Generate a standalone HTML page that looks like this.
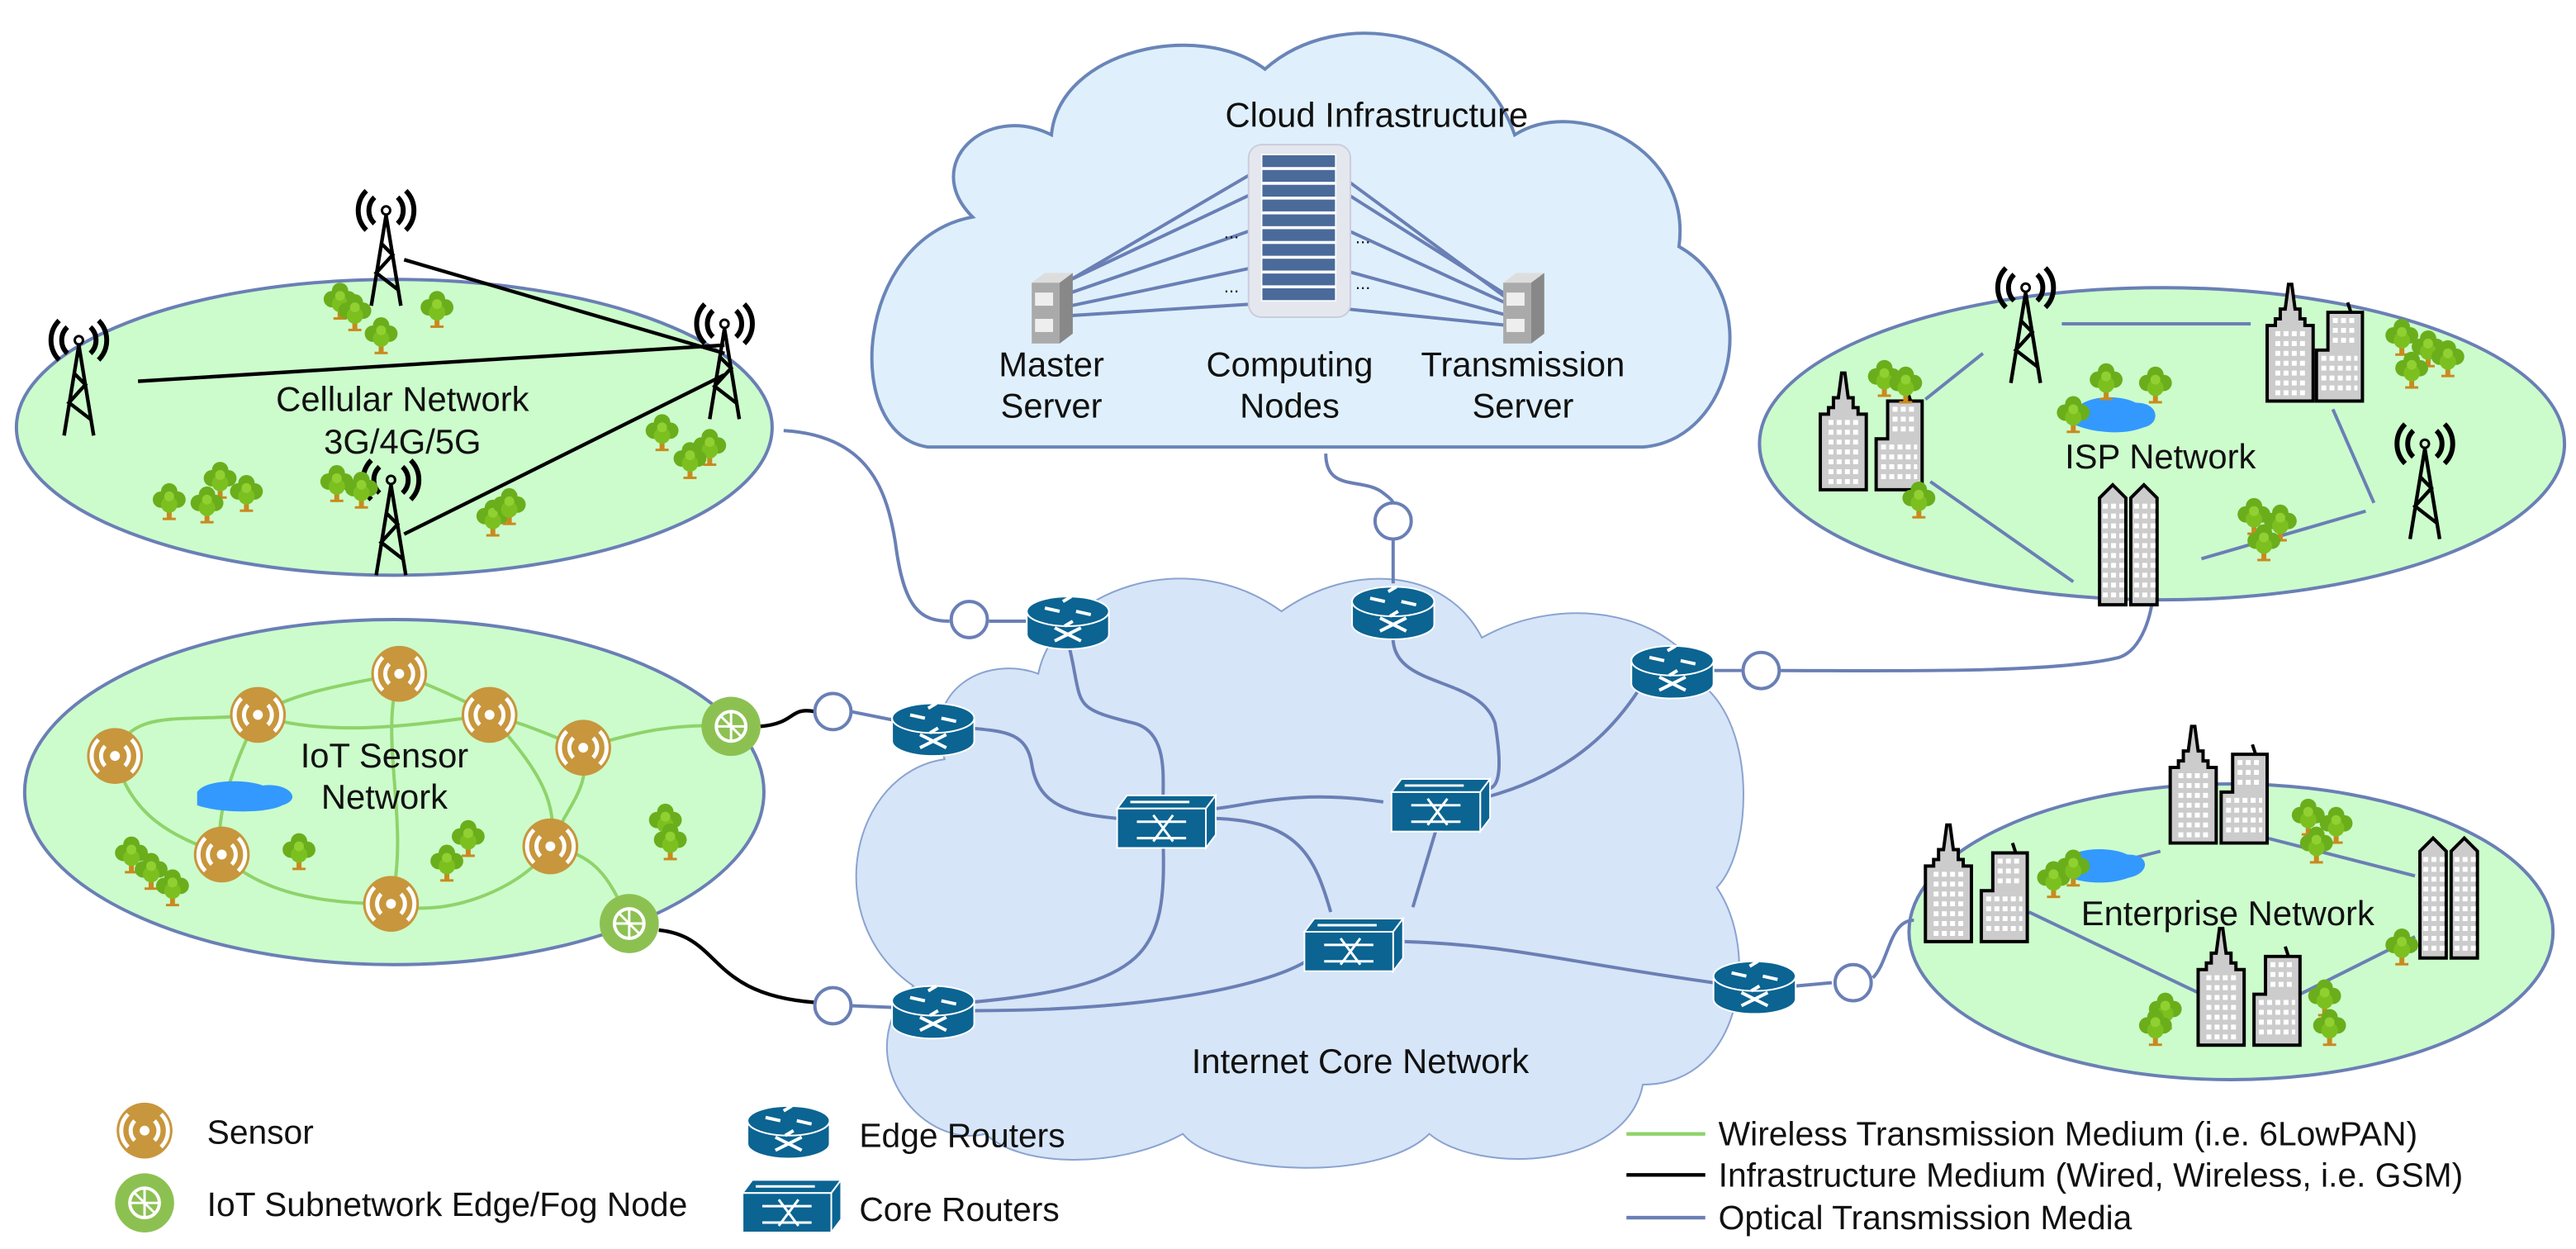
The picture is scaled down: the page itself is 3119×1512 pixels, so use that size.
<!DOCTYPE html>
<html><head><meta charset="utf-8"><style>html,body{margin:0;padding:0;background:#fff}svg{display:block}text{font-family:"Liberation Sans",sans-serif;fill:#111}</style></head><body>
<svg width="3119" height="1512" viewBox="0 0 1568 760" xmlns="http://www.w3.org/2000/svg">
<defs>
<g id="tree"><rect x="-1.5" y="2" width="3" height="9" fill="#c98a1e"/><rect x="-4" y="10" width="8" height="1.5" fill="#c98a1e"/><circle cx="0" cy="-6" r="5" fill="#6aae1c"/><circle cx="-5" cy="-1" r="5" fill="#6aae1c"/><circle cx="5" cy="-1" r="5" fill="#6aae1c"/><circle cx="0" cy="2" r="5" fill="#7cc020"/><circle cx="0" cy="-3" r="3" fill="#90d030"/></g>
<g id="tower" fill="none" stroke="#000"><circle cx="0" cy="0" r="2.5" stroke-width="1.5"/><path d="M-7,-8 A11,11 0 0 0 -7,8 M7,-8 A11,11 0 0 1 7,8 M-12,-12 A17,17 0 0 0 -12,12 M12,-12 A17,17 0 0 1 12,12" stroke-width="3"/><path d="M0,3 L-9,58 M0,3 L9,58 M-3,20 L4,27 L-6,38 L7,48" stroke-width="2.2"/></g>
<g id="sky"><path d="M-1,-35 L1,-35 L3,-20 L6,-20 L6,-14 L9,-14 L9,-10 L14,-10 L14,36 L-14,36 L-14,-10 L-9,-10 L-9,-14 L-6,-14 L-6,-20 L-3,-20 Z" fill="#ccc" stroke="#000" stroke-width="2"/><path d="M-9,-5 h18 M-9,1 h18 M-9,7 h18 M-9,13 h18 M-9,19 h18 M-9,25 h18 M-9,31 h18" stroke="#fff" stroke-width="3" stroke-dasharray="3,2"/></g>
<g id="step"><path d="M-14,36 L-14,5 L-7,5 L-7,-18 L14,-18 L14,36 Z" fill="#ccc" stroke="#000" stroke-width="2"/><path d="M7,-18 l-2,-6" stroke="#000" stroke-width="2"/><path d="M-11,10 h22 M-11,16 h22 M-11,22 h22 M-11,28 h22 M-4,-13 h15 M-4,-7 h15 M-4,-1 h15" stroke="#fff" stroke-width="3" stroke-dasharray="3,2"/></g>
<g id="twin"><path d="M-32,0 L-24,-8 L-16,0 L-16,65 L-32,65 Z M-13,0 L-5,-8 L3,0 L3,65 L-13,65 Z" fill="#ccc" stroke="#000" stroke-width="2"/><path d="M-30,5 h13 M-30,11 h13 M-30,17 h13 M-30,23 h13 M-30,29 h13 M-30,35 h13 M-30,41 h13 M-30,47 h13 M-30,53 h13 M-30,59 h13 M-11,5 h13 M-11,11 h13 M-11,17 h13 M-11,23 h13 M-11,29 h13 M-11,35 h13 M-11,41 h13 M-11,47 h13 M-11,53 h13 M-11,59 h13" stroke="#fff" stroke-width="3" stroke-dasharray="3,2"/></g>
<g id="sensor"><circle r="17" fill="#c8963c"/><circle r="3" fill="#fff"/><path d="M-6,-6 A8.5,8.5 0 0 0 -6,6 M6,-6 A8.5,8.5 0 0 1 6,6 M-10,-10 A14,14 0 0 0 -10,10 M10,-10 A14,14 0 0 1 10,10" stroke="#fff" stroke-width="2.5" fill="none"/></g>
<g id="fog"><circle r="18" fill="#8cc152"/><circle r="9" fill="none" stroke="#fff" stroke-width="2"/><path d="M-9,0 h18 M0,-9 v18 M-6,-6 L6,6" stroke="#fff" stroke-width="1.5"/></g>
<g id="edge"><path d="M-25,-6 L-25,8 A25,9 0 0 0 25,8 L25,-6 Z" fill="#0b6492" stroke="#fff" stroke-width="1"/><ellipse cx="0" cy="-6" rx="25" ry="9" fill="#0b6492" stroke="#fff" stroke-width="1"/><path d="M-14,-8 l9,2 M14,-4 l-9,-2 M-3,-12 l5,-3 M3,0 l-5,3 M-8,4 l16,8 M8,4 l-16,8" stroke="#fff" stroke-width="2"/></g>
<g id="core"><path d="M-30,-6 L-24,-14 L30,-14 L24,-6 Z" fill="#0b6492" stroke="#fff"/><path d="M24,-6 L30,-14 L30,10 L24,18 Z" fill="#0b6492" stroke="#fff"/><rect x="-30" y="-6" width="54" height="24" fill="#0b6492" stroke="#fff"/><path d="M-22,-10 h36 M-18,2 h30 M-18,12 h30 M-8,-2 l12,16 M4,-2 l-12,16" stroke="#fff" stroke-width="1.5"/></g>
<g id="server"><path d="M-12,-10 L-4,-16 L13,-16 L5,-10 Z" fill="#ddd"/><rect x="-12" y="-10" width="17" height="37" fill="#aaa"/><path d="M5,-10 L13,-16 L13,21 L5,27 Z" fill="#888"/><rect x="-10" y="-4" width="11" height="8" fill="#eee"/><rect x="-10" y="12" width="11" height="8" fill="#eee"/></g>
</defs>

<!-- cloud infra -->
<path d="M565,272 L1000,272 C1055,268 1075,180 1022,150 C1030,90 960,58 922,82 C900,18 815,2 770,42 C730,12 645,30 640,82 C600,62 560,100 592,132 C520,145 512,265 565,272 Z" fill="#dff0fc" stroke="#6a85b8" stroke-width="2"/>
<text x="838" y="77" font-size="21" text-anchor="middle">Cloud Infrastructure</text>
<g stroke="#6a7fb5" stroke-width="2">
<line x1="652" y1="170" x2="762" y2="118"/><line x1="652" y1="178" x2="762" y2="140"/><line x1="652" y1="186" x2="762" y2="163"/><line x1="652" y1="192" x2="762" y2="185"/>
<line x1="820" y1="118" x2="918" y2="180"/><line x1="820" y1="140" x2="918" y2="185"/><line x1="820" y1="165" x2="918" y2="192"/><line x1="820" y1="188" x2="918" y2="198"/>
<line x1="800" y1="95" x2="918" y2="182"/><line x1="780" y1="95" x2="652" y2="170"/></g>
<text x="745" y="145" font-size="11">...</text><text x="825" y="148" font-size="11">...</text><text x="745" y="178" font-size="11">...</text><text x="825" y="176" font-size="11">...</text>
<rect x="760" y="88" width="62" height="105" rx="8" fill="#e4e8ee" stroke="#ccd"/>
<g fill="#4a6a9a" stroke="#fff" stroke-width="0.8"><rect x="768" y="94" width="45" height="8"/><rect x="768" y="103" width="45" height="8"/><rect x="768" y="112" width="45" height="8"/><rect x="768" y="121" width="45" height="8"/><rect x="768" y="130" width="45" height="8"/><rect x="768" y="139" width="45" height="8"/><rect x="768" y="148" width="45" height="8"/><rect x="768" y="157" width="45" height="8"/><rect x="768" y="166" width="45" height="8"/><rect x="768" y="175" width="45" height="8"/></g>
<use href="#server" x="640" y="182"/><use href="#server" x="927" y="182"/>
<text x="640" y="229" font-size="21" text-anchor="middle">Master</text><text x="640" y="254" font-size="21" text-anchor="middle">Server</text>
<text x="785" y="229" font-size="21" text-anchor="middle">Computing</text><text x="785" y="254" font-size="21" text-anchor="middle">Nodes</text>
<text x="927" y="229" font-size="21" text-anchor="middle">Transmission</text><text x="927" y="254" font-size="21" text-anchor="middle">Server</text>

<!-- internet core cloud -->
<path d="M600,690 C558,700 516,640 556,600 C498,560 518,470 575,462 C560,420 600,398 632,410 C642,360 722,330 780,372 C822,342 880,345 902,388 C952,360 1022,372 1040,420 C1070,450 1065,520 1045,540 C1072,580 1060,660 1000,660 C990,712 900,715 870,690 C840,720 740,715 720,690 C680,712 620,710 600,690 Z" fill="#d6e5f7" stroke="#8aa3d0" stroke-width="1"/>
<text x="828" y="653" font-size="21" text-anchor="middle">Internet Core Network</text>

<!-- ellipses -->
<ellipse cx="240" cy="260" rx="230" ry="90" fill="#ccfccc" stroke="#6a7fb5" stroke-width="2"/>
<ellipse cx="240" cy="482" rx="225" ry="105" fill="#ccfccc" stroke="#6a7fb5" stroke-width="2"/>
<ellipse cx="1316" cy="270" rx="245" ry="95" fill="#ccfccc" stroke="#6a7fb5" stroke-width="2"/>
<ellipse cx="1358" cy="567" rx="196" ry="90" fill="#ccfccc" stroke="#6a7fb5" stroke-width="2"/>

<!-- cellular -->
<g stroke="#000" stroke-width="2.2"><line x1="246" y1="158" x2="441" y2="215"/><line x1="84" y1="232" x2="441" y2="210"/><line x1="246" y1="325" x2="441" y2="228"/></g>
<use href="#tower" x="235" y="128"/><use href="#tower" x="48" y="207"/><use href="#tower" x="441" y="197"/><use href="#tower" x="238" y="292"/>
<text x="245" y="250" font-size="21" text-anchor="middle">Cellular Network</text><text x="245" y="276" font-size="21" text-anchor="middle">3G/4G/5G</text>
<use href="#tree" x="207" y="183"/><use href="#tree" x="216" y="190"/><use href="#tree" x="232" y="204"/><use href="#tree" x="266" y="188"/>
<use href="#tree" x="205" y="294"/><use href="#tree" x="220" y="298"/><use href="#tree" x="134" y="292"/><use href="#tree" x="150" y="300"/><use href="#tree" x="103" y="305"/><use href="#tree" x="126" y="307"/>
<use href="#tree" x="300" y="315"/><use href="#tree" x="310" y="308"/><use href="#tree" x="403" y="263"/><use href="#tree" x="432" y="272"/><use href="#tree" x="420" y="280"/>

<!-- IoT -->
<g stroke="#8fd36a" stroke-width="2" fill="none">
<path d="M70,460 C80,430 110,440 157,435 M157,435 C180,420 220,415 243,410 M243,410 C270,420 290,430 298,435 M298,435 C320,440 340,450 355,455 M355,455 C390,445 410,440 445,442 M157,435 C200,450 260,440 298,435 M70,460 C80,500 110,510 135,520 M135,520 C160,545 200,550 238,550 M238,550 C270,560 320,540 335,515 M335,515 C345,490 360,480 355,455 M335,515 C360,520 370,530 383,562 M157,435 C140,470 130,500 135,520 M243,410 C230,450 250,500 238,550 M298,435 C330,470 340,490 335,515"/></g>
<use href="#sensor" x="243" y="410"/><use href="#sensor" x="157" y="435"/><use href="#sensor" x="298" y="435"/><use href="#sensor" x="355" y="455"/><use href="#sensor" x="70" y="460"/><use href="#sensor" x="135" y="520"/><use href="#sensor" x="335" y="515"/><use href="#sensor" x="238" y="550"/>
<path d="M120,482 C125,474 150,474 160,478 C175,476 185,486 172,490 C160,496 130,494 120,490 Z" fill="#3399ff"/>
<text x="234" y="467" font-size="21" text-anchor="middle">IoT Sensor</text><text x="234" y="492" font-size="21" text-anchor="middle">Network</text>
<use href="#tree" x="80" y="520"/><use href="#tree" x="92" y="530"/><use href="#tree" x="105" y="540"/><use href="#tree" x="182" y="518"/><use href="#tree" x="272" y="525"/><use href="#tree" x="285" y="510"/><use href="#tree" x="405" y="500"/><use href="#tree" x="408" y="512"/>
<use href="#fog" x="445" y="442"/><use href="#fog" x="383" y="562"/>

<!-- black links -->
<g stroke="#000" stroke-width="2.2" fill="none"><path d="M463,442 C485,440 480,430 496,433"/><path d="M401,566 C440,570 430,605 496,610"/></g>

<!-- optical links -->
<g stroke="#6a7fb5" stroke-width="2" fill="none">
<path d="M477,262 C530,265 540,300 545,330 C550,370 560,378 578,378"/>
<path d="M602,378 L625,378"/>
<path d="M807,276 C807,300 830,290 842,300 C846,303 848,305 848,306"/><path d="M848,329 L848,355"/>
<path d="M518,433 L543,438"/><path d="M518,612 L543,613"/>
<path d="M1083,408 C1150,408 1250,410 1290,400 C1305,395 1310,370 1310,365"/><path d="M1060,408 L1043,408"/>
<path d="M1093,600 L1115,598"/><path d="M1140,595 C1150,585 1150,560 1165,560"/>
<path d="M650,390 C660,430 650,430 690,440 C710,445 708,470 708,484"/>
<path d="M590,443 C610,445 625,445 628,465 C632,490 650,495 680,498"/>
<path d="M848,385 C845,420 900,410 910,440 C915,470 912,480 905,480"/>
<path d="M1000,416 C985,440 960,470 905,485"/>
<path d="M740,492 C760,490 790,480 842,488"/>
<path d="M740,498 C790,500 800,520 810,555"/>
<path d="M708,512 C710,580 700,600 590,610"/>
<path d="M593,615 C700,615 770,600 795,585"/>
<path d="M875,502 L860,552"/>
<path d="M855,573 C920,575 950,585 1043,598"/>
</g>
<g fill="#fff" stroke="#6a7fb5" stroke-width="2"><circle cx="590" cy="377" r="11"/><circle cx="848" cy="317" r="11"/><circle cx="1072" cy="408" r="11"/><circle cx="507" cy="433" r="11"/><circle cx="507" cy="612" r="11"/><circle cx="1128" cy="598" r="11"/></g>
<use href="#edge" x="650" y="378"/><use href="#edge" x="848" y="372"/><use href="#edge" x="1018" y="408"/><use href="#edge" x="568" y="443"/><use href="#edge" x="568" y="615"/><use href="#edge" x="1068" y="600"/>
<use href="#core" x="710" y="498"/><use href="#core" x="877" y="488"/><use href="#core" x="824" y="573"/>

<!-- ISP -->
<g stroke="#6a7fb5" stroke-width="2"><line x1="1255" y1="197" x2="1370" y2="197"/><line x1="1207" y1="215" x2="1172" y2="243"/><line x1="1175" y1="293" x2="1262" y2="354"/><line x1="1340" y1="340" x2="1440" y2="311"/><line x1="1420" y1="249" x2="1445" y2="306"/></g>
<use href="#tower" x="1233" y="175"/><use href="#tower" x="1476" y="270"/>
<use href="#sky" x="1122" y="262"/><use href="#step" x="1156" y="262"/><use href="#sky" x="1394" y="208"/><use href="#step" x="1424" y="208"/><use href="#twin" x="1310" y="303"/>
<path d="M1262,250 C1270,240 1290,240 1300,245 C1315,245 1315,258 1305,260 C1290,266 1270,262 1262,258 Z" fill="#3399ff"/>
<text x="1315" y="285" font-size="21" text-anchor="middle">ISP Network</text>
<use href="#tree" x="1147" y="230"/><use href="#tree" x="1160" y="234"/><use href="#tree" x="1168" y="304"/><use href="#tree" x="1262" y="252"/><use href="#tree" x="1282" y="232"/><use href="#tree" x="1312" y="234"/><use href="#tree" x="1462" y="205"/><use href="#tree" x="1478" y="212"/><use href="#tree" x="1490" y="218"/><use href="#tree" x="1468" y="225"/><use href="#tree" x="1372" y="314"/><use href="#tree" x="1388" y="318"/><use href="#tree" x="1378" y="330"/>

<!-- Enterprise -->
<g stroke="#6a7fb5" stroke-width="2"><line x1="1235" y1="555" x2="1340" y2="605"/><line x1="1248" y1="535" x2="1315" y2="518"/><line x1="1380" y1="510" x2="1470" y2="533"/><line x1="1400" y1="605" x2="1470" y2="570"/></g>
<use href="#sky" x="1186" y="537"/><use href="#step" x="1220" y="537"/><use href="#sky" x="1335" y="477"/><use href="#step" x="1366" y="477"/><use href="#sky" x="1352" y="600"/><use href="#step" x="1386" y="600"/><use href="#twin" x="1505" y="518"/>
<path d="M1255,525 C1262,515 1285,515 1295,520 C1310,520 1308,532 1296,534 C1280,540 1262,536 1255,532 Z" fill="#3399ff"/>
<text x="1356" y="563" font-size="21" text-anchor="middle">Enterprise Network</text>
<use href="#tree" x="1250" y="535"/><use href="#tree" x="1262" y="528"/><use href="#tree" x="1405" y="497"/><use href="#tree" x="1422" y="502"/><use href="#tree" x="1410" y="514"/><use href="#tree" x="1462" y="576"/><use href="#tree" x="1318" y="615"/><use href="#tree" x="1312" y="625"/><use href="#tree" x="1415" y="607"/><use href="#tree" x="1418" y="625"/>

<!-- legend -->
<use href="#sensor" x="88" y="688"/><text x="126" y="696" font-size="20.5">Sensor</text>
<use href="#fog" x="88" y="732"/><text x="126" y="740" font-size="20.5">IoT Subnetwork Edge/Fog Node</text>
<use href="#edge" x="480" y="688"/><text x="523" y="698" font-size="20.5">Edge Routers</text>
<use href="#core" x="482" y="732"/><text x="523" y="743" font-size="20.5">Core Routers</text>
<g stroke-width="2.2"><line x1="990" y1="690" x2="1038" y2="690" stroke="#8fd36a"/><line x1="990" y1="715" x2="1038" y2="715" stroke="#000"/><line x1="990" y1="741" x2="1038" y2="741" stroke="#6a7fb5"/></g>
<text x="1046" y="697" font-size="20.5">Wireless Transmission Medium (i.e. 6LowPAN)</text>
<text x="1046" y="722" font-size="20.5">Infrastructure Medium (Wired, Wireless, i.e. GSM)</text>
<text x="1046" y="748" font-size="20.5">Optical Transmission Media</text>
</svg>
</body></html>
